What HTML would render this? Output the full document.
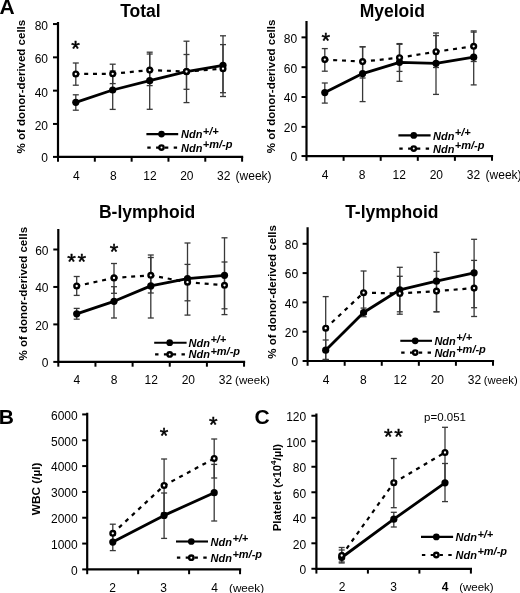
<!DOCTYPE html>
<html><head><meta charset="utf-8"><style>
html,body{margin:0;padding:0;background:#fff;}
body{width:520px;height:593px;overflow:hidden;}
svg{display:block;font-family:"Liberation Sans",sans-serif;will-change:transform;}
</style></head><body>
<svg width="520" height="593" viewBox="0 0 520 593">
<path d="M58 23.2 V156.9 H242.1" fill="none" stroke="#000" stroke-width="2.2" stroke-linejoin="miter" stroke-linecap="square"/>
<line x1="53" y1="156.9" x2="58" y2="156.9" stroke="#000" stroke-width="2.0" />
<text x="48" y="162.2" font-size="12" font-weight="normal" font-style="normal" text-anchor="end" >0</text>
<line x1="53" y1="123.95" x2="58" y2="123.95" stroke="#000" stroke-width="2.0" />
<text x="48" y="129.85" font-size="12" font-weight="normal" font-style="normal" text-anchor="end" >20</text>
<line x1="53" y1="90.65" x2="58" y2="90.65" stroke="#000" stroke-width="2.0" />
<text x="48" y="96.55" font-size="12" font-weight="normal" font-style="normal" text-anchor="end" >40</text>
<line x1="53" y1="57.35" x2="58" y2="57.35" stroke="#000" stroke-width="2.0" />
<text x="48" y="63.25" font-size="12" font-weight="normal" font-style="normal" text-anchor="end" >60</text>
<line x1="53" y1="24.05" x2="58" y2="24.05" stroke="#000" stroke-width="2.0" />
<text x="48" y="29.95" font-size="12" font-weight="normal" font-style="normal" text-anchor="end" >80</text>
<line x1="58" y1="156.9" x2="58" y2="161.7" stroke="#000" stroke-width="2.0" />
<line x1="94.82" y1="156.9" x2="94.82" y2="161.7" stroke="#000" stroke-width="2.0" />
<line x1="131.64" y1="156.9" x2="131.64" y2="161.7" stroke="#000" stroke-width="2.0" />
<line x1="168.46" y1="156.9" x2="168.46" y2="161.7" stroke="#000" stroke-width="2.0" />
<line x1="205.28" y1="156.9" x2="205.28" y2="161.7" stroke="#000" stroke-width="2.0" />
<line x1="242.1" y1="156.9" x2="242.1" y2="161.7" stroke="#000" stroke-width="2.0" />
<text x="76.41" y="179.8" font-size="12" font-weight="normal" font-style="normal" text-anchor="middle" >4</text>
<text x="113.23" y="179.8" font-size="12" font-weight="normal" font-style="normal" text-anchor="middle" >8</text>
<text x="150.05" y="179.8" font-size="12" font-weight="normal" font-style="normal" text-anchor="middle" >12</text>
<text x="186.87" y="179.8" font-size="12" font-weight="normal" font-style="normal" text-anchor="middle" >20</text>
<text x="223.69" y="179.8" font-size="12" font-weight="normal" font-style="normal" text-anchor="middle" >32</text>
<text x="235.6" y="179.8" font-size="12" font-weight="normal" font-style="normal" text-anchor="start" >(week)</text>
<line x1="75.8" y1="94.8" x2="75.8" y2="110.2" stroke="#383838" stroke-width="1.3" />
<line x1="72.8" y1="94.8" x2="78.8" y2="94.8" stroke="#383838" stroke-width="1.3" />
<line x1="72.8" y1="110.2" x2="78.8" y2="110.2" stroke="#383838" stroke-width="1.3" />
<line x1="75.8" y1="63" x2="75.8" y2="85.2" stroke="#383838" stroke-width="1.3" />
<line x1="72.8" y1="63" x2="78.8" y2="63" stroke="#383838" stroke-width="1.3" />
<line x1="72.8" y1="85.2" x2="78.8" y2="85.2" stroke="#383838" stroke-width="1.3" />
<line x1="112.7" y1="71" x2="112.7" y2="109.4" stroke="#383838" stroke-width="1.3" />
<line x1="109.7" y1="71" x2="115.7" y2="71" stroke="#383838" stroke-width="1.3" />
<line x1="109.7" y1="109.4" x2="115.7" y2="109.4" stroke="#383838" stroke-width="1.3" />
<line x1="112.7" y1="64.2" x2="112.7" y2="83.6" stroke="#383838" stroke-width="1.3" />
<line x1="109.7" y1="64.2" x2="115.7" y2="64.2" stroke="#383838" stroke-width="1.3" />
<line x1="109.7" y1="83.6" x2="115.7" y2="83.6" stroke="#383838" stroke-width="1.3" />
<line x1="149.7" y1="52.2" x2="149.7" y2="109.3" stroke="#383838" stroke-width="1.3" />
<line x1="146.7" y1="52.2" x2="152.7" y2="52.2" stroke="#383838" stroke-width="1.3" />
<line x1="146.7" y1="109.3" x2="152.7" y2="109.3" stroke="#383838" stroke-width="1.3" />
<line x1="149.7" y1="54" x2="149.7" y2="85.6" stroke="#383838" stroke-width="1.3" />
<line x1="146.7" y1="54" x2="152.7" y2="54" stroke="#383838" stroke-width="1.3" />
<line x1="146.7" y1="85.6" x2="152.7" y2="85.6" stroke="#383838" stroke-width="1.3" />
<line x1="186.5" y1="41.2" x2="186.5" y2="102.6" stroke="#383838" stroke-width="1.3" />
<line x1="183.5" y1="41.2" x2="189.5" y2="41.2" stroke="#383838" stroke-width="1.3" />
<line x1="183.5" y1="102.6" x2="189.5" y2="102.6" stroke="#383838" stroke-width="1.3" />
<line x1="186.5" y1="54.5" x2="186.5" y2="89.3" stroke="#383838" stroke-width="1.3" />
<line x1="183.5" y1="54.5" x2="189.5" y2="54.5" stroke="#383838" stroke-width="1.3" />
<line x1="183.5" y1="89.3" x2="189.5" y2="89.3" stroke="#383838" stroke-width="1.3" />
<line x1="223" y1="35.8" x2="223" y2="92.7" stroke="#383838" stroke-width="1.3" />
<line x1="220" y1="35.8" x2="226" y2="35.8" stroke="#383838" stroke-width="1.3" />
<line x1="220" y1="92.7" x2="226" y2="92.7" stroke="#383838" stroke-width="1.3" />
<line x1="223" y1="44.6" x2="223" y2="96.5" stroke="#383838" stroke-width="1.3" />
<line x1="220" y1="44.6" x2="226" y2="44.6" stroke="#383838" stroke-width="1.3" />
<line x1="220" y1="96.5" x2="226" y2="96.5" stroke="#383838" stroke-width="1.3" />
<polyline points="75.8,102.3 112.7,90 149.7,80.7 186.5,71.6 223,65.3" fill="none" stroke="#000" stroke-width="2.8" stroke-linejoin="round"/>
<line x1="75.8" y1="74" x2="112.7" y2="73.8" stroke="#000" stroke-width="2.2" stroke-dasharray="4 4.8" stroke-dashoffset="0.4"/>
<line x1="112.7" y1="73.8" x2="149.7" y2="70.1" stroke="#000" stroke-width="2.2" stroke-dasharray="4 4.8" stroke-dashoffset="0.4"/>
<line x1="149.7" y1="70.1" x2="186.5" y2="71.5" stroke="#000" stroke-width="2.2" stroke-dasharray="4 4.8" stroke-dashoffset="0.4"/>
<line x1="186.5" y1="71.5" x2="223" y2="68.7" stroke="#000" stroke-width="2.2" stroke-dasharray="4 4.8" stroke-dashoffset="0.4"/>
<circle cx="75.8" cy="102.3" r="3.6" fill="#000"/>
<circle cx="112.7" cy="90" r="3.6" fill="#000"/>
<circle cx="149.7" cy="80.7" r="3.6" fill="#000"/>
<circle cx="186.5" cy="71.6" r="3.6" fill="#000"/>
<circle cx="223" cy="65.3" r="3.6" fill="#000"/>
<circle cx="75.8" cy="74" r="2.35" fill="#fff" stroke="#000" stroke-width="2.4"/>
<circle cx="112.7" cy="73.8" r="2.35" fill="#fff" stroke="#000" stroke-width="2.4"/>
<circle cx="149.7" cy="70.1" r="2.35" fill="#fff" stroke="#000" stroke-width="2.4"/>
<circle cx="186.5" cy="71.5" r="2.35" fill="#fff" stroke="#000" stroke-width="2.4"/>
<circle cx="223" cy="68.7" r="2.35" fill="#fff" stroke="#000" stroke-width="2.4"/>
<line x1="146.4" y1="134.1" x2="178.2" y2="134.1" stroke="#000" stroke-width="2.1" />
<circle cx="161.5" cy="134.1" r="3.35" fill="#000"/>
<line x1="147.3" y1="147.6" x2="178.2" y2="147.6" stroke="#000" stroke-width="2.2" stroke-dasharray="3.4 5.4"/>
<circle cx="161.5" cy="147.6" r="2.2" fill="#fff" stroke="#000" stroke-width="2.4"/>
<text x="181" y="138.2" font-size="11" font-weight="bold" font-style="italic">Ndn<tspan font-size="11" dx="0.4" dy="-3.5">+/+</tspan></text>
<text x="181" y="151.5" font-size="11" font-weight="bold" font-style="italic">Ndn<tspan font-size="11" dx="0.4" dy="-3.5">+m/-p</tspan></text>
<text transform="translate(25.2,86.6) rotate(-90)" font-size="11.5" font-weight="bold" text-anchor="middle">% of donor-derived cells</text>
<text x="140.4" y="16.9" font-size="17.5" font-weight="bold" font-style="normal" text-anchor="middle" >Total</text>
<text x="75.55" y="56.38" font-size="22" font-weight="normal" font-style="normal" text-anchor="middle" stroke="#000" stroke-width="0.45">*</text>
<path d="M306.5 22 V156.05 H492" fill="none" stroke="#000" stroke-width="2.2" stroke-linejoin="miter" stroke-linecap="square"/>
<line x1="301.5" y1="156.05" x2="306.5" y2="156.05" stroke="#000" stroke-width="2.0" />
<text x="297.2" y="161.35" font-size="12" font-weight="normal" font-style="normal" text-anchor="end" >0</text>
<line x1="301.5" y1="126.87" x2="306.5" y2="126.87" stroke="#000" stroke-width="2.0" />
<text x="297.2" y="132.17" font-size="12" font-weight="normal" font-style="normal" text-anchor="end" >20</text>
<line x1="301.5" y1="97.03" x2="306.5" y2="97.03" stroke="#000" stroke-width="2.0" />
<text x="297.2" y="102.33" font-size="12" font-weight="normal" font-style="normal" text-anchor="end" >40</text>
<line x1="301.5" y1="67.2" x2="306.5" y2="67.2" stroke="#000" stroke-width="2.0" />
<text x="297.2" y="72.5" font-size="12" font-weight="normal" font-style="normal" text-anchor="end" >60</text>
<line x1="301.5" y1="37.36" x2="306.5" y2="37.36" stroke="#000" stroke-width="2.0" />
<text x="297.2" y="42.66" font-size="12" font-weight="normal" font-style="normal" text-anchor="end" >80</text>
<line x1="306.5" y1="156.05" x2="306.5" y2="160.85" stroke="#000" stroke-width="2.0" />
<line x1="343.6" y1="156.05" x2="343.6" y2="160.85" stroke="#000" stroke-width="2.0" />
<line x1="380.7" y1="156.05" x2="380.7" y2="160.85" stroke="#000" stroke-width="2.0" />
<line x1="417.8" y1="156.05" x2="417.8" y2="160.85" stroke="#000" stroke-width="2.0" />
<line x1="454.9" y1="156.05" x2="454.9" y2="160.85" stroke="#000" stroke-width="2.0" />
<line x1="492" y1="156.05" x2="492" y2="160.85" stroke="#000" stroke-width="2.0" />
<text x="325.05" y="179.3" font-size="12" font-weight="normal" font-style="normal" text-anchor="middle" >4</text>
<text x="362.15" y="179.3" font-size="12" font-weight="normal" font-style="normal" text-anchor="middle" >8</text>
<text x="399.25" y="179.3" font-size="12" font-weight="normal" font-style="normal" text-anchor="middle" >12</text>
<text x="436.35" y="179.3" font-size="12" font-weight="normal" font-style="normal" text-anchor="middle" >20</text>
<text x="473.45" y="179.3" font-size="12" font-weight="normal" font-style="normal" text-anchor="middle" >32</text>
<text x="485.6" y="179.3" font-size="12" font-weight="normal" font-style="normal" text-anchor="start" >(week)</text>
<line x1="324.8" y1="83" x2="324.8" y2="103.1" stroke="#383838" stroke-width="1.3" />
<line x1="321.8" y1="83" x2="327.8" y2="83" stroke="#383838" stroke-width="1.3" />
<line x1="321.8" y1="103.1" x2="327.8" y2="103.1" stroke="#383838" stroke-width="1.3" />
<line x1="324.8" y1="48.6" x2="324.8" y2="71.2" stroke="#383838" stroke-width="1.3" />
<line x1="321.8" y1="48.6" x2="327.8" y2="48.6" stroke="#383838" stroke-width="1.3" />
<line x1="321.8" y1="71.2" x2="327.8" y2="71.2" stroke="#383838" stroke-width="1.3" />
<line x1="362.6" y1="46.8" x2="362.6" y2="101.6" stroke="#383838" stroke-width="1.3" />
<line x1="359.6" y1="46.8" x2="365.6" y2="46.8" stroke="#383838" stroke-width="1.3" />
<line x1="359.6" y1="101.6" x2="365.6" y2="101.6" stroke="#383838" stroke-width="1.3" />
<line x1="362.6" y1="46.8" x2="362.6" y2="78" stroke="#383838" stroke-width="1.3" />
<line x1="359.6" y1="46.8" x2="365.6" y2="46.8" stroke="#383838" stroke-width="1.3" />
<line x1="359.6" y1="78" x2="365.6" y2="78" stroke="#383838" stroke-width="1.3" />
<line x1="399.5" y1="43.6" x2="399.5" y2="81.3" stroke="#383838" stroke-width="1.3" />
<line x1="396.5" y1="43.6" x2="402.5" y2="43.6" stroke="#383838" stroke-width="1.3" />
<line x1="396.5" y1="81.3" x2="402.5" y2="81.3" stroke="#383838" stroke-width="1.3" />
<line x1="399.5" y1="44.3" x2="399.5" y2="71.4" stroke="#383838" stroke-width="1.3" />
<line x1="396.5" y1="44.3" x2="402.5" y2="44.3" stroke="#383838" stroke-width="1.3" />
<line x1="396.5" y1="71.4" x2="402.5" y2="71.4" stroke="#383838" stroke-width="1.3" />
<line x1="436" y1="33" x2="436" y2="94.4" stroke="#383838" stroke-width="1.3" />
<line x1="433" y1="33" x2="439" y2="33" stroke="#383838" stroke-width="1.3" />
<line x1="433" y1="94.4" x2="439" y2="94.4" stroke="#383838" stroke-width="1.3" />
<line x1="436" y1="35.6" x2="436" y2="67.5" stroke="#383838" stroke-width="1.3" />
<line x1="433" y1="35.6" x2="439" y2="35.6" stroke="#383838" stroke-width="1.3" />
<line x1="433" y1="67.5" x2="439" y2="67.5" stroke="#383838" stroke-width="1.3" />
<line x1="473.7" y1="30.9" x2="473.7" y2="84.9" stroke="#383838" stroke-width="1.3" />
<line x1="470.7" y1="30.9" x2="476.7" y2="30.9" stroke="#383838" stroke-width="1.3" />
<line x1="470.7" y1="84.9" x2="476.7" y2="84.9" stroke="#383838" stroke-width="1.3" />
<line x1="473.7" y1="32.1" x2="473.7" y2="61.5" stroke="#383838" stroke-width="1.3" />
<line x1="470.7" y1="32.1" x2="476.7" y2="32.1" stroke="#383838" stroke-width="1.3" />
<line x1="470.7" y1="61.5" x2="476.7" y2="61.5" stroke="#383838" stroke-width="1.3" />
<polyline points="324.8,92.6 362.6,73.6 399.5,62.3 436,63.3 473.7,57.2" fill="none" stroke="#000" stroke-width="2.8" stroke-linejoin="round"/>
<line x1="324.8" y1="59.6" x2="362.6" y2="61.6" stroke="#000" stroke-width="2.2" stroke-dasharray="4 4.8" stroke-dashoffset="0.4"/>
<line x1="362.6" y1="61.6" x2="399.5" y2="57.7" stroke="#000" stroke-width="2.2" stroke-dasharray="4 4.8" stroke-dashoffset="0.4"/>
<line x1="399.5" y1="57.7" x2="436" y2="51.7" stroke="#000" stroke-width="2.2" stroke-dasharray="4 4.8" stroke-dashoffset="0.4"/>
<line x1="436" y1="51.7" x2="473.7" y2="46.3" stroke="#000" stroke-width="2.2" stroke-dasharray="4 4.8" stroke-dashoffset="0.4"/>
<circle cx="324.8" cy="92.6" r="3.6" fill="#000"/>
<circle cx="362.6" cy="73.6" r="3.6" fill="#000"/>
<circle cx="399.5" cy="62.3" r="3.6" fill="#000"/>
<circle cx="436" cy="63.3" r="3.6" fill="#000"/>
<circle cx="473.7" cy="57.2" r="3.6" fill="#000"/>
<circle cx="324.8" cy="59.6" r="2.35" fill="#fff" stroke="#000" stroke-width="2.4"/>
<circle cx="362.6" cy="61.6" r="2.35" fill="#fff" stroke="#000" stroke-width="2.4"/>
<circle cx="399.5" cy="57.7" r="2.35" fill="#fff" stroke="#000" stroke-width="2.4"/>
<circle cx="436" cy="51.7" r="2.35" fill="#fff" stroke="#000" stroke-width="2.4"/>
<circle cx="473.7" cy="46.3" r="2.35" fill="#fff" stroke="#000" stroke-width="2.4"/>
<line x1="398.4" y1="135.4" x2="430.6" y2="135.4" stroke="#000" stroke-width="2.1" />
<circle cx="413.75" cy="135.4" r="3.35" fill="#000"/>
<line x1="399.3" y1="148.6" x2="430.6" y2="148.6" stroke="#000" stroke-width="2.2" stroke-dasharray="3.4 5.4"/>
<circle cx="413.75" cy="148.6" r="2.2" fill="#fff" stroke="#000" stroke-width="2.4"/>
<text x="433" y="139.5" font-size="11" font-weight="bold" font-style="italic">Ndn<tspan font-size="11" dx="0.4" dy="-3.5">+/+</tspan></text>
<text x="433" y="152.5" font-size="11" font-weight="bold" font-style="italic">Ndn<tspan font-size="11" dx="0.4" dy="-3.5">+m/-p</tspan></text>
<text transform="translate(274.8,86.4) rotate(-90)" font-size="11.5" font-weight="bold" text-anchor="middle">% of donor-derived cells</text>
<text x="392.3" y="16.9" font-size="17.5" font-weight="bold" font-style="normal" text-anchor="middle" >Myeloid</text>
<text x="325.7" y="47.68" font-size="22" font-weight="normal" font-style="normal" text-anchor="middle" stroke="#000" stroke-width="0.45">*</text>
<path d="M58.3 230 V361.9 H244.05" fill="none" stroke="#000" stroke-width="2.2" stroke-linejoin="miter" stroke-linecap="square"/>
<line x1="53.3" y1="361.9" x2="58.3" y2="361.9" stroke="#000" stroke-width="2.0" />
<text x="48.5" y="367.2" font-size="12" font-weight="normal" font-style="normal" text-anchor="end" >0</text>
<line x1="53.3" y1="324.4" x2="58.3" y2="324.4" stroke="#000" stroke-width="2.0" />
<text x="48.5" y="329.7" font-size="12" font-weight="normal" font-style="normal" text-anchor="end" >20</text>
<line x1="53.3" y1="286.95" x2="58.3" y2="286.95" stroke="#000" stroke-width="2.0" />
<text x="48.5" y="292.25" font-size="12" font-weight="normal" font-style="normal" text-anchor="end" >40</text>
<line x1="53.3" y1="249.5" x2="58.3" y2="249.5" stroke="#000" stroke-width="2.0" />
<text x="48.5" y="254.8" font-size="12" font-weight="normal" font-style="normal" text-anchor="end" >60</text>
<line x1="58.3" y1="361.9" x2="58.3" y2="366.7" stroke="#000" stroke-width="2.0" />
<line x1="95.45" y1="361.9" x2="95.45" y2="366.7" stroke="#000" stroke-width="2.0" />
<line x1="132.6" y1="361.9" x2="132.6" y2="366.7" stroke="#000" stroke-width="2.0" />
<line x1="169.75" y1="361.9" x2="169.75" y2="366.7" stroke="#000" stroke-width="2.0" />
<line x1="206.9" y1="361.9" x2="206.9" y2="366.7" stroke="#000" stroke-width="2.0" />
<line x1="244.05" y1="361.9" x2="244.05" y2="366.7" stroke="#000" stroke-width="2.0" />
<text x="76.88" y="383.9" font-size="12" font-weight="normal" font-style="normal" text-anchor="middle" >4</text>
<text x="114.02" y="383.9" font-size="12" font-weight="normal" font-style="normal" text-anchor="middle" >8</text>
<text x="151.18" y="383.9" font-size="12" font-weight="normal" font-style="normal" text-anchor="middle" >12</text>
<text x="188.32" y="383.9" font-size="12" font-weight="normal" font-style="normal" text-anchor="middle" >20</text>
<text x="225.47" y="383.9" font-size="12" font-weight="normal" font-style="normal" text-anchor="middle" >32</text>
<text x="235.1" y="383.9" font-size="11.6" font-weight="normal" font-style="normal" text-anchor="start" >(week)</text>
<line x1="76.7" y1="308.4" x2="76.7" y2="319.2" stroke="#383838" stroke-width="1.3" />
<line x1="73.7" y1="308.4" x2="79.7" y2="308.4" stroke="#383838" stroke-width="1.3" />
<line x1="73.7" y1="319.2" x2="79.7" y2="319.2" stroke="#383838" stroke-width="1.3" />
<line x1="76.7" y1="276.5" x2="76.7" y2="295.4" stroke="#383838" stroke-width="1.3" />
<line x1="73.7" y1="276.5" x2="79.7" y2="276.5" stroke="#383838" stroke-width="1.3" />
<line x1="73.7" y1="295.4" x2="79.7" y2="295.4" stroke="#383838" stroke-width="1.3" />
<line x1="114" y1="286.7" x2="114" y2="318" stroke="#383838" stroke-width="1.3" />
<line x1="111" y1="286.7" x2="117" y2="286.7" stroke="#383838" stroke-width="1.3" />
<line x1="111" y1="318" x2="117" y2="318" stroke="#383838" stroke-width="1.3" />
<line x1="114" y1="263.5" x2="114" y2="293.3" stroke="#383838" stroke-width="1.3" />
<line x1="111" y1="263.5" x2="117" y2="263.5" stroke="#383838" stroke-width="1.3" />
<line x1="111" y1="293.3" x2="117" y2="293.3" stroke="#383838" stroke-width="1.3" />
<line x1="150.8" y1="255" x2="150.8" y2="318" stroke="#383838" stroke-width="1.3" />
<line x1="147.8" y1="255" x2="153.8" y2="255" stroke="#383838" stroke-width="1.3" />
<line x1="147.8" y1="318" x2="153.8" y2="318" stroke="#383838" stroke-width="1.3" />
<line x1="150.8" y1="257.5" x2="150.8" y2="293" stroke="#383838" stroke-width="1.3" />
<line x1="147.8" y1="257.5" x2="153.8" y2="257.5" stroke="#383838" stroke-width="1.3" />
<line x1="147.8" y1="293" x2="153.8" y2="293" stroke="#383838" stroke-width="1.3" />
<line x1="187.5" y1="243" x2="187.5" y2="315.1" stroke="#383838" stroke-width="1.3" />
<line x1="184.5" y1="243" x2="190.5" y2="243" stroke="#383838" stroke-width="1.3" />
<line x1="184.5" y1="315.1" x2="190.5" y2="315.1" stroke="#383838" stroke-width="1.3" />
<line x1="187.5" y1="264.4" x2="187.5" y2="300.8" stroke="#383838" stroke-width="1.3" />
<line x1="184.5" y1="264.4" x2="190.5" y2="264.4" stroke="#383838" stroke-width="1.3" />
<line x1="184.5" y1="300.8" x2="190.5" y2="300.8" stroke="#383838" stroke-width="1.3" />
<line x1="224.5" y1="237.8" x2="224.5" y2="314.6" stroke="#383838" stroke-width="1.3" />
<line x1="221.5" y1="237.8" x2="227.5" y2="237.8" stroke="#383838" stroke-width="1.3" />
<line x1="221.5" y1="314.6" x2="227.5" y2="314.6" stroke="#383838" stroke-width="1.3" />
<line x1="224.5" y1="262" x2="224.5" y2="308.8" stroke="#383838" stroke-width="1.3" />
<line x1="221.5" y1="262" x2="227.5" y2="262" stroke="#383838" stroke-width="1.3" />
<line x1="221.5" y1="308.8" x2="227.5" y2="308.8" stroke="#383838" stroke-width="1.3" />
<polyline points="76.7,313.8 114,301.3 150.8,285.9 187.5,278.7 224.5,275.3" fill="none" stroke="#000" stroke-width="2.8" stroke-linejoin="round"/>
<line x1="76.7" y1="286" x2="114" y2="277.9" stroke="#000" stroke-width="2.2" stroke-dasharray="4 4.8" stroke-dashoffset="0.4"/>
<line x1="114" y1="277.9" x2="150.8" y2="275.3" stroke="#000" stroke-width="2.2" stroke-dasharray="4 4.8" stroke-dashoffset="0.4"/>
<line x1="150.8" y1="275.3" x2="187.5" y2="282.2" stroke="#000" stroke-width="2.2" stroke-dasharray="4 4.8" stroke-dashoffset="0.4"/>
<line x1="187.5" y1="282.2" x2="224.5" y2="285.3" stroke="#000" stroke-width="2.2" stroke-dasharray="4 4.8" stroke-dashoffset="0.4"/>
<circle cx="76.7" cy="313.8" r="3.6" fill="#000"/>
<circle cx="114" cy="301.3" r="3.6" fill="#000"/>
<circle cx="150.8" cy="285.9" r="3.6" fill="#000"/>
<circle cx="187.5" cy="278.7" r="3.6" fill="#000"/>
<circle cx="224.5" cy="275.3" r="3.6" fill="#000"/>
<circle cx="76.7" cy="286" r="2.35" fill="#fff" stroke="#000" stroke-width="2.4"/>
<circle cx="114" cy="277.9" r="2.35" fill="#fff" stroke="#000" stroke-width="2.4"/>
<circle cx="150.8" cy="275.3" r="2.35" fill="#fff" stroke="#000" stroke-width="2.4"/>
<circle cx="187.5" cy="282.2" r="2.35" fill="#fff" stroke="#000" stroke-width="2.4"/>
<circle cx="224.5" cy="285.3" r="2.35" fill="#fff" stroke="#000" stroke-width="2.4"/>
<line x1="154.2" y1="342.7" x2="186.6" y2="342.7" stroke="#000" stroke-width="2.1" />
<circle cx="169.7" cy="342.7" r="3.35" fill="#000"/>
<line x1="155.1" y1="354.4" x2="186.6" y2="354.4" stroke="#000" stroke-width="2.2" stroke-dasharray="3.4 5.4"/>
<circle cx="169.7" cy="354.4" r="2.2" fill="#fff" stroke="#000" stroke-width="2.4"/>
<text x="188.6" y="346.8" font-size="11" font-weight="bold" font-style="italic">Ndn<tspan font-size="11" dx="0.4" dy="-3.5">+/+</tspan></text>
<text x="188.6" y="358.3" font-size="11" font-weight="bold" font-style="italic">Ndn<tspan font-size="11" dx="0.4" dy="-3.5">+m/-p</tspan></text>
<text transform="translate(27,293.75) rotate(-90)" font-size="11.5" font-weight="bold" text-anchor="middle">% of donor-derived cells</text>
<text x="147.1" y="217.8" font-size="17.5" font-weight="bold" font-style="normal" text-anchor="middle" >B-lymphoid</text>
<text x="71.6" y="268.68" font-size="22" font-weight="normal" font-style="normal" text-anchor="middle" stroke="#000" stroke-width="0.45">*</text>
<text x="81.8" y="268.68" font-size="22" font-weight="normal" font-style="normal" text-anchor="middle" stroke="#000" stroke-width="0.45">*</text>
<text x="114.1" y="259.38" font-size="22" font-weight="normal" font-style="normal" text-anchor="middle" stroke="#000" stroke-width="0.45">*</text>
<path d="M307.6 228.4 V361 H493" fill="none" stroke="#000" stroke-width="2.2" stroke-linejoin="miter" stroke-linecap="square"/>
<line x1="302.6" y1="361" x2="307.6" y2="361" stroke="#000" stroke-width="2.0" />
<text x="298.1" y="366.3" font-size="12" font-weight="normal" font-style="normal" text-anchor="end" >0</text>
<line x1="302.6" y1="331.7" x2="307.6" y2="331.7" stroke="#000" stroke-width="2.0" />
<text x="298.1" y="337" font-size="12" font-weight="normal" font-style="normal" text-anchor="end" >20</text>
<line x1="302.6" y1="302.4" x2="307.6" y2="302.4" stroke="#000" stroke-width="2.0" />
<text x="298.1" y="307.7" font-size="12" font-weight="normal" font-style="normal" text-anchor="end" >40</text>
<line x1="302.6" y1="273.1" x2="307.6" y2="273.1" stroke="#000" stroke-width="2.0" />
<text x="298.1" y="278.4" font-size="12" font-weight="normal" font-style="normal" text-anchor="end" >60</text>
<line x1="302.6" y1="243.8" x2="307.6" y2="243.8" stroke="#000" stroke-width="2.0" />
<text x="298.1" y="249.1" font-size="12" font-weight="normal" font-style="normal" text-anchor="end" >80</text>
<line x1="307.6" y1="361" x2="307.6" y2="365.8" stroke="#000" stroke-width="2.0" />
<line x1="344.68" y1="361" x2="344.68" y2="365.8" stroke="#000" stroke-width="2.0" />
<line x1="381.76" y1="361" x2="381.76" y2="365.8" stroke="#000" stroke-width="2.0" />
<line x1="418.84" y1="361" x2="418.84" y2="365.8" stroke="#000" stroke-width="2.0" />
<line x1="455.92" y1="361" x2="455.92" y2="365.8" stroke="#000" stroke-width="2.0" />
<line x1="493" y1="361" x2="493" y2="365.8" stroke="#000" stroke-width="2.0" />
<text x="326.14" y="383.5" font-size="12" font-weight="normal" font-style="normal" text-anchor="middle" >4</text>
<text x="363.22" y="383.5" font-size="12" font-weight="normal" font-style="normal" text-anchor="middle" >8</text>
<text x="400.3" y="383.5" font-size="12" font-weight="normal" font-style="normal" text-anchor="middle" >12</text>
<text x="437.38" y="383.5" font-size="12" font-weight="normal" font-style="normal" text-anchor="middle" >20</text>
<text x="474.46" y="383.5" font-size="12" font-weight="normal" font-style="normal" text-anchor="middle" >32</text>
<text x="483.8" y="383.5" font-size="11.3" font-weight="normal" font-style="normal" text-anchor="start" >(week)</text>
<line x1="325.7" y1="340" x2="325.7" y2="359.5" stroke="#383838" stroke-width="1.3" />
<line x1="322.7" y1="340" x2="328.7" y2="340" stroke="#383838" stroke-width="1.3" />
<line x1="322.7" y1="359.5" x2="328.7" y2="359.5" stroke="#383838" stroke-width="1.3" />
<line x1="325.7" y1="296.6" x2="325.7" y2="359.5" stroke="#383838" stroke-width="1.3" />
<line x1="322.7" y1="296.6" x2="328.7" y2="296.6" stroke="#383838" stroke-width="1.3" />
<line x1="322.7" y1="359.5" x2="328.7" y2="359.5" stroke="#383838" stroke-width="1.3" />
<line x1="363.6" y1="308.1" x2="363.6" y2="316.7" stroke="#383838" stroke-width="1.3" />
<line x1="360.6" y1="308.1" x2="366.6" y2="308.1" stroke="#383838" stroke-width="1.3" />
<line x1="360.6" y1="316.7" x2="366.6" y2="316.7" stroke="#383838" stroke-width="1.3" />
<line x1="363.6" y1="271" x2="363.6" y2="314.4" stroke="#383838" stroke-width="1.3" />
<line x1="360.6" y1="271" x2="366.6" y2="271" stroke="#383838" stroke-width="1.3" />
<line x1="360.6" y1="314.4" x2="366.6" y2="314.4" stroke="#383838" stroke-width="1.3" />
<line x1="399.8" y1="267.3" x2="399.8" y2="311.8" stroke="#383838" stroke-width="1.3" />
<line x1="396.8" y1="267.3" x2="402.8" y2="267.3" stroke="#383838" stroke-width="1.3" />
<line x1="396.8" y1="311.8" x2="402.8" y2="311.8" stroke="#383838" stroke-width="1.3" />
<line x1="399.8" y1="276.3" x2="399.8" y2="314.2" stroke="#383838" stroke-width="1.3" />
<line x1="396.8" y1="276.3" x2="402.8" y2="276.3" stroke="#383838" stroke-width="1.3" />
<line x1="396.8" y1="314.2" x2="402.8" y2="314.2" stroke="#383838" stroke-width="1.3" />
<line x1="436.5" y1="252.4" x2="436.5" y2="311.8" stroke="#383838" stroke-width="1.3" />
<line x1="433.5" y1="252.4" x2="439.5" y2="252.4" stroke="#383838" stroke-width="1.3" />
<line x1="433.5" y1="311.8" x2="439.5" y2="311.8" stroke="#383838" stroke-width="1.3" />
<line x1="436.5" y1="271.3" x2="436.5" y2="311.8" stroke="#383838" stroke-width="1.3" />
<line x1="433.5" y1="271.3" x2="439.5" y2="271.3" stroke="#383838" stroke-width="1.3" />
<line x1="433.5" y1="311.8" x2="439.5" y2="311.8" stroke="#383838" stroke-width="1.3" />
<line x1="474.1" y1="239.3" x2="474.1" y2="307.7" stroke="#383838" stroke-width="1.3" />
<line x1="471.1" y1="239.3" x2="477.1" y2="239.3" stroke="#383838" stroke-width="1.3" />
<line x1="471.1" y1="307.7" x2="477.1" y2="307.7" stroke="#383838" stroke-width="1.3" />
<line x1="474.1" y1="260.4" x2="474.1" y2="316.5" stroke="#383838" stroke-width="1.3" />
<line x1="471.1" y1="260.4" x2="477.1" y2="260.4" stroke="#383838" stroke-width="1.3" />
<line x1="471.1" y1="316.5" x2="477.1" y2="316.5" stroke="#383838" stroke-width="1.3" />
<polyline points="325.7,350.2 363.6,312.5 399.8,289.8 436.5,281.2 474.1,272.8" fill="none" stroke="#000" stroke-width="2.8" stroke-linejoin="round"/>
<line x1="325.7" y1="328.2" x2="363.6" y2="292.7" stroke="#000" stroke-width="2.2" stroke-dasharray="4 4.8" stroke-dashoffset="0.4"/>
<line x1="363.6" y1="292.7" x2="399.8" y2="293.5" stroke="#000" stroke-width="2.2" stroke-dasharray="4 4.8" stroke-dashoffset="0.4"/>
<line x1="399.8" y1="293.5" x2="436.5" y2="291.1" stroke="#000" stroke-width="2.2" stroke-dasharray="4 4.8" stroke-dashoffset="0.4"/>
<line x1="436.5" y1="291.1" x2="474.1" y2="288.1" stroke="#000" stroke-width="2.2" stroke-dasharray="4 4.8" stroke-dashoffset="0.4"/>
<circle cx="325.7" cy="350.2" r="3.6" fill="#000"/>
<circle cx="363.6" cy="312.5" r="3.6" fill="#000"/>
<circle cx="399.8" cy="289.8" r="3.6" fill="#000"/>
<circle cx="436.5" cy="281.2" r="3.6" fill="#000"/>
<circle cx="474.1" cy="272.8" r="3.6" fill="#000"/>
<circle cx="325.7" cy="328.2" r="2.35" fill="#fff" stroke="#000" stroke-width="2.4"/>
<circle cx="363.6" cy="292.7" r="2.35" fill="#fff" stroke="#000" stroke-width="2.4"/>
<circle cx="399.8" cy="293.5" r="2.35" fill="#fff" stroke="#000" stroke-width="2.4"/>
<circle cx="436.5" cy="291.1" r="2.35" fill="#fff" stroke="#000" stroke-width="2.4"/>
<circle cx="474.1" cy="288.1" r="2.35" fill="#fff" stroke="#000" stroke-width="2.4"/>
<line x1="400.3" y1="340.8" x2="432" y2="340.8" stroke="#000" stroke-width="2.1" />
<circle cx="415.2" cy="340.8" r="3.35" fill="#000"/>
<line x1="401.2" y1="352.6" x2="432" y2="352.6" stroke="#000" stroke-width="2.2" stroke-dasharray="3.4 5.4"/>
<circle cx="415.2" cy="352.6" r="2.2" fill="#fff" stroke="#000" stroke-width="2.4"/>
<text x="434.4" y="344.9" font-size="11" font-weight="bold" font-style="italic">Ndn<tspan font-size="11" dx="0.4" dy="-3.5">+/+</tspan></text>
<text x="434.4" y="356.5" font-size="11" font-weight="bold" font-style="italic">Ndn<tspan font-size="11" dx="0.4" dy="-3.5">+m/-p</tspan></text>
<text transform="translate(276,291.85) rotate(-90)" font-size="11.5" font-weight="bold" text-anchor="middle">% of donor-derived cells</text>
<text x="391.8" y="217.8" font-size="17.5" font-weight="bold" font-style="normal" text-anchor="middle" >T-lymphoid</text>
<path d="M87.2 413.8 V569.4 H240.05" fill="none" stroke="#000" stroke-width="2.2" stroke-linejoin="miter" stroke-linecap="square"/>
<line x1="82.2" y1="569.4" x2="87.2" y2="569.4" stroke="#000" stroke-width="2.0" />
<text x="77.7" y="574.7" font-size="12" font-weight="normal" font-style="normal" text-anchor="end" >0</text>
<line x1="82.2" y1="543.57" x2="87.2" y2="543.57" stroke="#000" stroke-width="2.0" />
<text x="77.7" y="548.87" font-size="12" font-weight="normal" font-style="normal" text-anchor="end" >1000</text>
<line x1="82.2" y1="517.74" x2="87.2" y2="517.74" stroke="#000" stroke-width="2.0" />
<text x="77.7" y="523.04" font-size="12" font-weight="normal" font-style="normal" text-anchor="end" >2000</text>
<line x1="82.2" y1="491.91" x2="87.2" y2="491.91" stroke="#000" stroke-width="2.0" />
<text x="77.7" y="497.21" font-size="12" font-weight="normal" font-style="normal" text-anchor="end" >3000</text>
<line x1="82.2" y1="466.08" x2="87.2" y2="466.08" stroke="#000" stroke-width="2.0" />
<text x="77.7" y="471.38" font-size="12" font-weight="normal" font-style="normal" text-anchor="end" >4000</text>
<line x1="82.2" y1="440.25" x2="87.2" y2="440.25" stroke="#000" stroke-width="2.0" />
<text x="77.7" y="445.55" font-size="12" font-weight="normal" font-style="normal" text-anchor="end" >5000</text>
<line x1="82.2" y1="414.42" x2="87.2" y2="414.42" stroke="#000" stroke-width="2.0" />
<text x="77.7" y="419.72" font-size="12" font-weight="normal" font-style="normal" text-anchor="end" >6000</text>
<line x1="87.2" y1="569.4" x2="87.2" y2="574.2" stroke="#000" stroke-width="2.0" />
<line x1="138.15" y1="569.4" x2="138.15" y2="574.2" stroke="#000" stroke-width="2.0" />
<line x1="189.1" y1="569.4" x2="189.1" y2="574.2" stroke="#000" stroke-width="2.0" />
<line x1="240.05" y1="569.4" x2="240.05" y2="574.2" stroke="#000" stroke-width="2.0" />
<text x="112.68" y="591.8" font-size="12" font-weight="normal" font-style="normal" text-anchor="middle" >2</text>
<text x="163.62" y="591.8" font-size="12" font-weight="normal" font-style="normal" text-anchor="middle" >3</text>
<text x="214.57" y="591.8" font-size="12" font-weight="normal" font-style="normal" text-anchor="middle" >4</text>
<text x="229" y="591.8" font-size="11.7" font-weight="normal" font-style="normal" text-anchor="start" >(week)</text>
<line x1="112.8" y1="535" x2="112.8" y2="550.6" stroke="#383838" stroke-width="1.3" />
<line x1="109.8" y1="535" x2="115.8" y2="535" stroke="#383838" stroke-width="1.3" />
<line x1="109.8" y1="550.6" x2="115.8" y2="550.6" stroke="#383838" stroke-width="1.3" />
<line x1="112.8" y1="524.2" x2="112.8" y2="542" stroke="#383838" stroke-width="1.3" />
<line x1="109.8" y1="524.2" x2="115.8" y2="524.2" stroke="#383838" stroke-width="1.3" />
<line x1="109.8" y1="542" x2="115.8" y2="542" stroke="#383838" stroke-width="1.3" />
<line x1="164.1" y1="493" x2="164.1" y2="538.4" stroke="#383838" stroke-width="1.3" />
<line x1="161.1" y1="493" x2="167.1" y2="493" stroke="#383838" stroke-width="1.3" />
<line x1="161.1" y1="538.4" x2="167.1" y2="538.4" stroke="#383838" stroke-width="1.3" />
<line x1="164.1" y1="459" x2="164.1" y2="513" stroke="#383838" stroke-width="1.3" />
<line x1="161.1" y1="459" x2="167.1" y2="459" stroke="#383838" stroke-width="1.3" />
<line x1="161.1" y1="513" x2="167.1" y2="513" stroke="#383838" stroke-width="1.3" />
<line x1="214.2" y1="464.4" x2="214.2" y2="521" stroke="#383838" stroke-width="1.3" />
<line x1="211.2" y1="464.4" x2="217.2" y2="464.4" stroke="#383838" stroke-width="1.3" />
<line x1="211.2" y1="521" x2="217.2" y2="521" stroke="#383838" stroke-width="1.3" />
<line x1="214.2" y1="439" x2="214.2" y2="478" stroke="#383838" stroke-width="1.3" />
<line x1="211.2" y1="439" x2="217.2" y2="439" stroke="#383838" stroke-width="1.3" />
<line x1="211.2" y1="478" x2="217.2" y2="478" stroke="#383838" stroke-width="1.3" />
<polyline points="112.8,542.1 164.1,515.4 214.2,492.7" fill="none" stroke="#000" stroke-width="2.8" stroke-linejoin="round"/>
<line x1="112.8" y1="533.3" x2="164.1" y2="485.5" stroke="#000" stroke-width="2.2" stroke-dasharray="4 4.8" stroke-dashoffset="0.4"/>
<line x1="164.1" y1="485.5" x2="214.2" y2="458.5" stroke="#000" stroke-width="2.2" stroke-dasharray="4 4.8" stroke-dashoffset="0.4"/>
<circle cx="112.8" cy="542.1" r="3.6" fill="#000"/>
<circle cx="164.1" cy="515.4" r="3.6" fill="#000"/>
<circle cx="214.2" cy="492.7" r="3.6" fill="#000"/>
<circle cx="112.8" cy="533.3" r="2.35" fill="#fff" stroke="#000" stroke-width="2.4"/>
<circle cx="164.1" cy="485.5" r="2.35" fill="#fff" stroke="#000" stroke-width="2.4"/>
<circle cx="214.2" cy="458.5" r="2.35" fill="#fff" stroke="#000" stroke-width="2.4"/>
<line x1="176" y1="541.5" x2="208" y2="541.5" stroke="#000" stroke-width="2.1" />
<circle cx="191.3" cy="541.5" r="3.35" fill="#000"/>
<line x1="176.9" y1="557.7" x2="208" y2="557.7" stroke="#000" stroke-width="2.2" stroke-dasharray="3.4 5.4"/>
<circle cx="191.3" cy="557.7" r="2.2" fill="#fff" stroke="#000" stroke-width="2.4"/>
<text x="210.6" y="545.6" font-size="11" font-weight="bold" font-style="italic">Ndn<tspan font-size="11" dx="0.4" dy="-3.5">+/+</tspan></text>
<text x="210.6" y="561.6" font-size="11" font-weight="bold" font-style="italic">Ndn<tspan font-size="11" dx="0.4" dy="-3.5">+m/-p</tspan></text>
<text transform="translate(39.9,488.8) rotate(-90)" font-size="11.8" font-weight="bold" text-anchor="middle">WBC (/&#181;l)</text>
<text x="164.1" y="443.48" font-size="22" font-weight="normal" font-style="normal" text-anchor="middle" stroke="#000" stroke-width="0.45">*</text>
<text x="213.2" y="431.88" font-size="22" font-weight="normal" font-style="normal" text-anchor="middle" stroke="#000" stroke-width="0.45">*</text>
<path d="M316.4 414.5 V568.8 H470.9" fill="none" stroke="#000" stroke-width="2.2" stroke-linejoin="miter" stroke-linecap="square"/>
<line x1="311.4" y1="568.8" x2="316.4" y2="568.8" stroke="#000" stroke-width="2.0" />
<text x="306.2" y="574.1" font-size="12" font-weight="normal" font-style="normal" text-anchor="end" >0</text>
<line x1="311.4" y1="543.29" x2="316.4" y2="543.29" stroke="#000" stroke-width="2.0" />
<text x="306.2" y="548.59" font-size="12" font-weight="normal" font-style="normal" text-anchor="end" >20</text>
<line x1="311.4" y1="517.78" x2="316.4" y2="517.78" stroke="#000" stroke-width="2.0" />
<text x="306.2" y="523.08" font-size="12" font-weight="normal" font-style="normal" text-anchor="end" >40</text>
<line x1="311.4" y1="492.27" x2="316.4" y2="492.27" stroke="#000" stroke-width="2.0" />
<text x="306.2" y="497.57" font-size="12" font-weight="normal" font-style="normal" text-anchor="end" >60</text>
<line x1="311.4" y1="466.76" x2="316.4" y2="466.76" stroke="#000" stroke-width="2.0" />
<text x="306.2" y="472.06" font-size="12" font-weight="normal" font-style="normal" text-anchor="end" >80</text>
<line x1="311.4" y1="441.25" x2="316.4" y2="441.25" stroke="#000" stroke-width="2.0" />
<text x="306.2" y="446.55" font-size="12" font-weight="normal" font-style="normal" text-anchor="end" >100</text>
<line x1="311.4" y1="415.74" x2="316.4" y2="415.74" stroke="#000" stroke-width="2.0" />
<text x="306.2" y="421.04" font-size="12" font-weight="normal" font-style="normal" text-anchor="end" >120</text>
<line x1="316.4" y1="568.8" x2="316.4" y2="573.6" stroke="#000" stroke-width="2.0" />
<line x1="367.9" y1="568.8" x2="367.9" y2="573.6" stroke="#000" stroke-width="2.0" />
<line x1="419.4" y1="568.8" x2="419.4" y2="573.6" stroke="#000" stroke-width="2.0" />
<line x1="470.9" y1="568.8" x2="470.9" y2="573.6" stroke="#000" stroke-width="2.0" />
<text x="342.15" y="590.8" font-size="12" font-weight="normal" font-style="normal" text-anchor="middle" >2</text>
<text x="393.65" y="590.8" font-size="12" font-weight="normal" font-style="normal" text-anchor="middle" >3</text>
<text x="445.15" y="590.8" font-size="12" font-weight="bold" font-style="normal" text-anchor="middle" >4</text>
<text x="459.2" y="590.8" font-size="11.5" font-weight="normal" font-style="normal" text-anchor="start" >(week)</text>
<line x1="341.7" y1="550" x2="341.7" y2="563" stroke="#383838" stroke-width="1.3" />
<line x1="338.7" y1="550" x2="344.7" y2="550" stroke="#383838" stroke-width="1.3" />
<line x1="338.7" y1="563" x2="344.7" y2="563" stroke="#383838" stroke-width="1.3" />
<line x1="341.7" y1="547.5" x2="341.7" y2="562" stroke="#383838" stroke-width="1.3" />
<line x1="338.7" y1="547.5" x2="344.7" y2="547.5" stroke="#383838" stroke-width="1.3" />
<line x1="338.7" y1="562" x2="344.7" y2="562" stroke="#383838" stroke-width="1.3" />
<line x1="393.8" y1="512.3" x2="393.8" y2="527" stroke="#383838" stroke-width="1.3" />
<line x1="390.8" y1="512.3" x2="396.8" y2="512.3" stroke="#383838" stroke-width="1.3" />
<line x1="390.8" y1="527" x2="396.8" y2="527" stroke="#383838" stroke-width="1.3" />
<line x1="393.8" y1="458.5" x2="393.8" y2="507.7" stroke="#383838" stroke-width="1.3" />
<line x1="390.8" y1="458.5" x2="396.8" y2="458.5" stroke="#383838" stroke-width="1.3" />
<line x1="390.8" y1="507.7" x2="396.8" y2="507.7" stroke="#383838" stroke-width="1.3" />
<line x1="445" y1="463.5" x2="445" y2="501.6" stroke="#383838" stroke-width="1.3" />
<line x1="442" y1="463.5" x2="448" y2="463.5" stroke="#383838" stroke-width="1.3" />
<line x1="442" y1="501.6" x2="448" y2="501.6" stroke="#383838" stroke-width="1.3" />
<line x1="445" y1="427.3" x2="445" y2="482" stroke="#383838" stroke-width="1.3" />
<line x1="442" y1="427.3" x2="448" y2="427.3" stroke="#383838" stroke-width="1.3" />
<line x1="442" y1="482" x2="448" y2="482" stroke="#383838" stroke-width="1.3" />
<polyline points="341.7,557.5 393.8,519.2 445,482.8" fill="none" stroke="#000" stroke-width="2.8" stroke-linejoin="round"/>
<line x1="341.7" y1="555.5" x2="393.8" y2="482.7" stroke="#000" stroke-width="2.2" stroke-dasharray="4 4.8" stroke-dashoffset="0.4"/>
<line x1="393.8" y1="482.7" x2="445" y2="452.5" stroke="#000" stroke-width="2.2" stroke-dasharray="4 4.8" stroke-dashoffset="0.4"/>
<circle cx="341.7" cy="557.5" r="3.6" fill="#000"/>
<circle cx="393.8" cy="519.2" r="3.6" fill="#000"/>
<circle cx="445" cy="482.8" r="3.6" fill="#000"/>
<circle cx="341.7" cy="555.5" r="2.35" fill="#fff" stroke="#000" stroke-width="2.4"/>
<circle cx="393.8" cy="482.7" r="2.35" fill="#fff" stroke="#000" stroke-width="2.4"/>
<circle cx="445" cy="452.5" r="2.35" fill="#fff" stroke="#000" stroke-width="2.4"/>
<line x1="421" y1="536.9" x2="453.1" y2="536.9" stroke="#000" stroke-width="2.1" />
<circle cx="436.3" cy="536.9" r="3.35" fill="#000"/>
<line x1="421.9" y1="555" x2="453.1" y2="555" stroke="#000" stroke-width="2.2" stroke-dasharray="3.4 5.4"/>
<circle cx="436.3" cy="555" r="2.2" fill="#fff" stroke="#000" stroke-width="2.4"/>
<text x="455.6" y="541" font-size="11" font-weight="bold" font-style="italic">Ndn<tspan font-size="11" dx="0.4" dy="-3.5">+/+</tspan></text>
<text x="455.6" y="558.9" font-size="11" font-weight="bold" font-style="italic">Ndn<tspan font-size="11" dx="0.4" dy="-3.5">+m/-p</tspan></text>
<text transform="translate(281.2,487.55) rotate(-90)" font-size="11.3" font-weight="bold" text-anchor="middle">Platelet (&#215;10<tspan font-size="8" dy="-5">4</tspan><tspan dy="5">/&#181;l)</tspan></text>
<text x="388.4" y="444.38" font-size="22" font-weight="normal" font-style="normal" text-anchor="middle" stroke="#000" stroke-width="0.45">*</text>
<text x="398.5" y="444.38" font-size="22" font-weight="normal" font-style="normal" text-anchor="middle" stroke="#000" stroke-width="0.45">*</text>
<text x="-0.6" y="14.4" font-size="21" font-weight="bold" font-style="normal" text-anchor="start" >A</text>
<text x="-1.2" y="423.7" font-size="21" font-weight="bold" font-style="normal" text-anchor="start" >B</text>
<text x="254.5" y="423.7" font-size="21" font-weight="bold" font-style="normal" text-anchor="start" >C</text>
<text x="445" y="421.2" font-size="11.5" font-weight="normal" font-style="normal" text-anchor="middle" >p=0.051</text>
</svg>
</body></html>
